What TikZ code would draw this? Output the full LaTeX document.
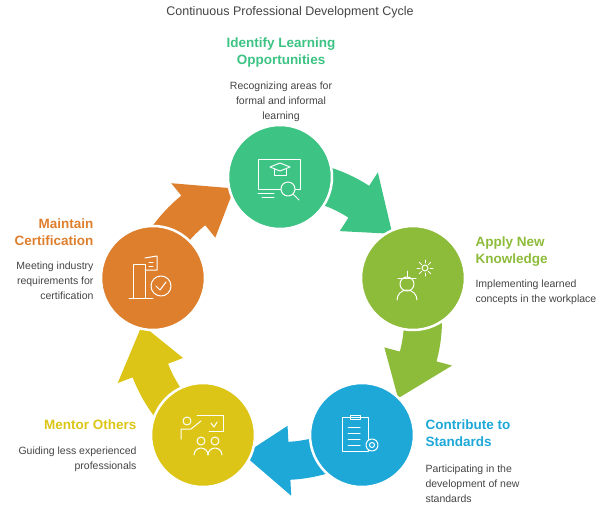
\documentclass[tikz,border=0pt]{standalone}
\usepackage{fontspec}
\setmainfont{Liberation Sans}
\usetikzlibrary{calc,positioning}
\definecolor{cGreen}{HTML}{3DC383}
\definecolor{cLime}{HTML}{8DBB3A}
\definecolor{cBlue}{HTML}{1DA8D8}
\definecolor{cYellow}{HTML}{DCC516}
\definecolor{cOrange}{HTML}{DE7F2E}
\definecolor{cText}{HTML}{444444}
\tikzset{%
step circle/.style={circle, draw=white, line width=2.5pt, minimum size=104pt, inner sep=0pt},
step title/.style={font=\fontsize{13.5}{17}\selectfont\bfseries, align=#1},
step text/.style={font=\fontsize{10.5}{15}\selectfont, text=cText, align=#1},
icon/.style={draw=white, line width=1pt, line cap=round, line join=round}
}
% one curved arrow of the cycle, leaving angle #1
\newcommand\cycarrow[2]{%
\fill[#2] ($(C)+(#1-8:160pt)$) arc[start angle=#1-8, end angle=#1-33, radius=160pt]
  -- ($(C)+(#1-33:176pt)$) -- ($(C)+(#1-52:140pt)$) -- ($(C)+(#1-33:106pt)$)
  -- ($(C)+(#1-33:122pt)$) arc[start angle=#1-33, end angle=#1-8, radius=122pt] -- cycle;}

\begin{document}
\begin{tikzpicture}[x=1pt,y=1pt]
\useasboundingbox (0,0) rectangle (615,-511);
\coordinate (C) at (282,-320);

\node[font=\fontsize{12.5}{15}\selectfont, text=cText] (title) at (290,-12) {Continuous Professional Development Cycle};

\cycarrow{90}{cGreen}
\cycarrow{18}{cLime}
\cycarrow{-54}{cBlue}
\cycarrow{-126}{cYellow}
\cycarrow{162}{cOrange}

\node[step circle, fill=cGreen] (ident) at (280,-177) {};
\node[step circle, fill=cLime] (apply) at (413,-278) {};
\node[step circle, fill=cBlue] (contrib) at (362,-435) {};
\node[step circle, fill=cYellow] (mentor) at (203,-435) {};
\node[step circle, fill=cOrange] (maintain) at (153,-278) {};

% icons
\draw[icon] ($(ident)+(-22,18)$) rectangle ($(ident)+(20,-12)$);
\draw[icon] ($(ident)+(-22,-16)$) -- ($(ident)+(-6,-16)$) ($(ident)+(-18,-20)$) -- ($(ident)+(-6,-20)$);
\draw[icon] ($(ident)+(-10,10)$) -- ($(ident)+(0,14)$) -- ($(ident)+(10,10)$) -- ($(ident)+(0,6)$) -- cycle;
\draw[icon] ($(ident)+(-6,8)$) -- ($(ident)+(-6,2)$) -- ($(ident)+(6,2)$) -- ($(ident)+(6,8)$);
\draw[icon, fill=cGreen] ($(ident)+(8,-12)$) circle (7);
\draw[icon] ($(ident)+(13,-17)$) -- ($(ident)+(19,-23)$);

\draw[icon] ($(apply)+(-16,-22)$) arc[start angle=180, end angle=0, radius=10];
\draw[icon] ($(apply)+(-6,-6)$) circle (7);
\draw[icon] ($(apply)+(-15,0)$) -- ($(apply)+(3,0)$) ($(apply)+(-6,1)$) -- ($(apply)+(-6,7)$);
\draw[icon] ($(apply)+(12,10)$) circle (3);
\foreach \a in {0,45,...,315}
  \draw[icon] ($(apply)+(12,10)+(\a:5)$) -- ($(apply)+(12,10)+(\a:8)$);

\draw[icon] ($(contrib)+(-20,18)$) rectangle ($(contrib)+(6,-16)$);
\draw[icon] ($(contrib)+(-12,20)$) rectangle ($(contrib)+(-2,16)$);
\foreach \y in {8,2,-4,-10}
  \draw[icon] ($(contrib)+(-14,\y)$) -- ($(contrib)+(-2,\y)$);
\draw[icon, fill=cBlue] ($(contrib)+(10,-10)$) circle (6);
\draw[icon] ($(contrib)+(10,-10)$) circle (2.5);

\draw[icon] ($(mentor)+(-16,14)$) circle (4);
\draw[icon] ($(mentor)+(-22,-4)$) -- ($(mentor)+(-22,6)$) -- ($(mentor)+(-12,6)$) -- ($(mentor)+(-2,14)$);
\draw[icon] ($(mentor)+(-6,20)$) -- ($(mentor)+(20,20)$) -- ($(mentor)+(20,4)$) -- ($(mentor)+(6,4)$);
\draw[icon] ($(mentor)+(8,12)$) -- ($(mentor)+(11,8)$) -- ($(mentor)+(14,13)$);
\draw[icon] ($(mentor)+(-2,-6)$) circle (4) ($(mentor)+(12,-6)$) circle (4);
\draw[icon] ($(mentor)+(-9,-20)$) arc[start angle=180, end angle=0, radius=7];
\draw[icon] ($(mentor)+(5,-20)$) arc[start angle=180, end angle=0, radius=7];

\draw[icon] ($(maintain)+(-20,-20)$) -- ($(maintain)+(-20,14)$) -- ($(maintain)+(-8,14)$) -- ($(maintain)+(-8,-20)$);
\draw[icon] ($(maintain)+(-8,20)$) -- ($(maintain)+(4,22)$) -- ($(maintain)+(4,8)$) -- ($(maintain)+(-8,8)$);
\draw[icon] ($(maintain)+(-4,16)$) -- ($(maintain)+(0,16)$) ($(maintain)+(-4,12)$) -- ($(maintain)+(0,12)$);
\draw[icon] ($(maintain)+(-24,-20)$) -- ($(maintain)+(0,-20)$);
\draw[icon, fill=cOrange] ($(maintain)+(8,-8)$) circle (10);
\draw[icon] ($(maintain)+(3,-8)$) -- ($(maintain)+(7,-12)$) -- ($(maintain)+(13,-4)$);

% labels
\node[step title=center, text=cGreen] (identT) at (281,-53) {Identify Learning\\Opportunities};
\node[step text=center] (identD) at (281,-102) {Recognizing areas for\\formal and informal\\learning};
\node[step title=left, text=cLime, anchor=north west] (applyT) at (472,-233) {Apply New\\Knowledge};
\node[step text=left, anchor=north west] (applyD) at (472,-276) {Implementing learned\\concepts in the workplace};
\node[step title=left, text=cBlue, anchor=north west] (contribT) at (422,-416) {Contribute to\\Standards};
\node[step text=left, anchor=north west] (contribD) at (422,-461) {Participating in the\\development of new\\standards};
\node[step title=right, text=cYellow, anchor=north east] (mentorT) at (140,-416) {Mentor Others};
\node[step text=right, anchor=north east] (mentorD) at (140,-443) {Guiding less experienced\\professionals};
\node[step title=right, text=cOrange, anchor=north east] (maintainT) at (97,-215) {Maintain\\Certification};
\node[step text=right, anchor=north east] (maintainD) at (97,-258) {Meeting industry\\requirements for\\certification};
\end{tikzpicture}
\end{document}
